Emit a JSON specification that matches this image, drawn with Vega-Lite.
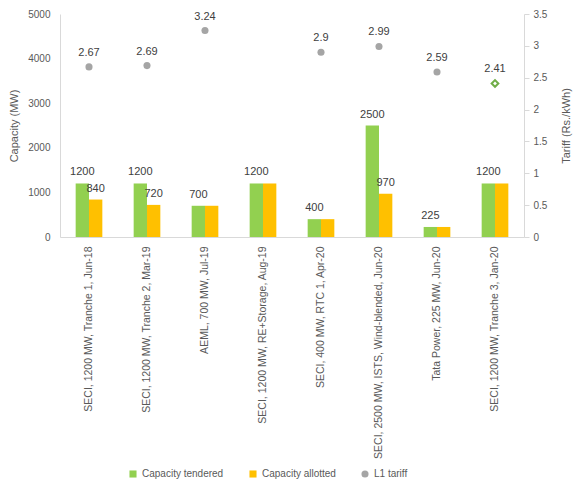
{
  "$schema": "https://vega.github.io/schema/vega-lite/v6.json",
  "autosize": {"type": "none"},
  "width": 464,
  "height": 223,
  "padding": {"left": 60, "top": 14, "right": 52, "bottom": 249},
  "background": "white",
  "config": {
    "font": "Liberation Sans",
    "view": {"stroke": null},
    "axis": {"labelColor": "#595959", "titleColor": "#595959", "labelFontSize": 10, "titleFontSize": 11, "titleFontWeight": "normal", "domainColor": "#D9D9D9", "tickColor": "#D9D9D9", "grid": false, "labelOverlap": false}
  },
  "data": {
    "values": [
      {"project": "SECI, 1200 MW, Tranche 1, Jun-18", "Capacity tendered": 1200, "Capacity allotted": 840, "tariff": 2.67},
      {"project": "SECI, 1200 MW, Tranche 2, Mar-19", "Capacity tendered": 1200, "Capacity allotted": 720, "tariff": 2.69},
      {"project": "AEML, 700 MW, Jul-19", "Capacity tendered": 700, "Capacity allotted": 700, "tariff": 3.24},
      {"project": "SECI, 1200 MW, RE+Storage, Aug-19", "Capacity tendered": 1200, "Capacity allotted": 1200, "tariff": null},
      {"project": "SECI, 400 MW, RTC 1, Apr-20", "Capacity tendered": 400, "Capacity allotted": 400, "tariff": 2.9},
      {"project": "SECI, 2500 MW, ISTS, Wind-blended, Jun-20", "Capacity tendered": 2500, "Capacity allotted": 970, "tariff": 2.99},
      {"project": "Tata Power, 225 MW, Jun-20", "Capacity tendered": 225, "Capacity allotted": 225, "tariff": 2.59},
      {"project": "SECI, 1200 MW, Tranche 3, Jan-20", "Capacity tendered": 1200, "Capacity allotted": 1200, "tariff": 2.41}
    ]
  },
  "encoding": {
    "x": {
      "field": "project", "type": "nominal", "sort": null,
      "scale": {"paddingInner": 0.54, "paddingOuter": 0.27},
      "axis": {"title": null, "labelAngle": -90, "labelAlign": "right", "labelBaseline": "middle", "labelPadding": 9, "ticks": false, "labelLimit": 300, "labelFontSize": 10.5}
    }
  },
  "layer": [
    {
      "transform": [{"fold": ["Capacity tendered", "Capacity allotted"], "as": ["series", "value"]}],
      "encoding": {
        "xOffset": {"field": "series", "type": "nominal", "sort": ["Capacity tendered", "Capacity allotted"], "scale": {"paddingInner": 0, "paddingOuter": 0}},
        "y": {"field": "value", "type": "quantitative", "scale": {"domain": [0, 5000]},
          "axis": {"title": "Capacity (MW)", "orient": "left", "values": [0, 1000, 2000, 3000, 4000, 5000], "format": "d", "ticks": false, "labelPadding": 10, "titlePadding": 8}}
      },
      "layer": [
        {
          "mark": {"type": "bar"},
          "encoding": {
            "color": {"field": "series", "type": "nominal",
              "scale": {"domain": ["Capacity tendered", "Capacity allotted", "L1 tariff"], "range": ["#92D050", "#FFC000", "#A5A5A5"]},
              "legend": {"title": null, "orient": "none", "legendX": 68, "legendY": 455, "direction": "horizontal", "columns": 3, "columnPadding": 24, "labelColor": "#595959", "labelFontSize": 10, "symbolSize": 50,
                "encode": {"symbols": {"update": {"shape": {"signal": "datum.value === 'L1 tariff' ? 'circle' : 'square'"}}}}}
            }
          }
        },
        {
          "transform": [{"filter": "datum.series === 'Capacity tendered' || datum['Capacity allotted'] !== datum['Capacity tendered']"}],
          "mark": {"type": "text", "baseline": "bottom", "dy": -6, "fontSize": 11, "color": "#404040"},
          "encoding": {"text": {"field": "value", "type": "quantitative", "format": "d"}}
        }
      ]
    },
    {
      "transform": [{"filter": "datum.tariff != null"}],
      "encoding": {
        "y": {"field": "tariff", "type": "quantitative", "scale": {"domain": [0, 3.5]},
          "axis": {"title": "Tariff (Rs./kWh)", "orient": "right", "titleAngle": 270, "values": [0, 0.5, 1, 1.5, 2, 2.5, 3, 3.5], "format": "~g", "ticks": true, "tickSize": 5, "labelPadding": 4, "titlePadding": 25}}
      },
      "layer": [
        {
          "mark": {"type": "point", "opacity": 1, "strokeWidth": 2},
          "encoding": {
            "shape": {"condition": {"test": "datum.project === 'SECI, 1200 MW, Tranche 3, Jan-20'", "value": "diamond"}, "value": "circle"},
            "fill": {"condition": {"test": "datum.project === 'SECI, 1200 MW, Tranche 3, Jan-20'", "value": "white"}, "value": "#A5A5A5"},
            "stroke": {"condition": {"test": "datum.project === 'SECI, 1200 MW, Tranche 3, Jan-20'", "value": "#70AD47"}, "value": null},
            "size": {"condition": {"test": "datum.project === 'SECI, 1200 MW, Tranche 3, Jan-20'", "value": 45}, "value": 50}
          }
        },
        {
          "mark": {"type": "text", "baseline": "bottom", "dy": -9, "fontSize": 11, "color": "#404040"},
          "encoding": {"text": {"field": "tariff", "type": "quantitative", "format": "~g"}}
        }
      ]
    }
  ],
  "resolve": {"scale": {"y": "independent"}}
}
